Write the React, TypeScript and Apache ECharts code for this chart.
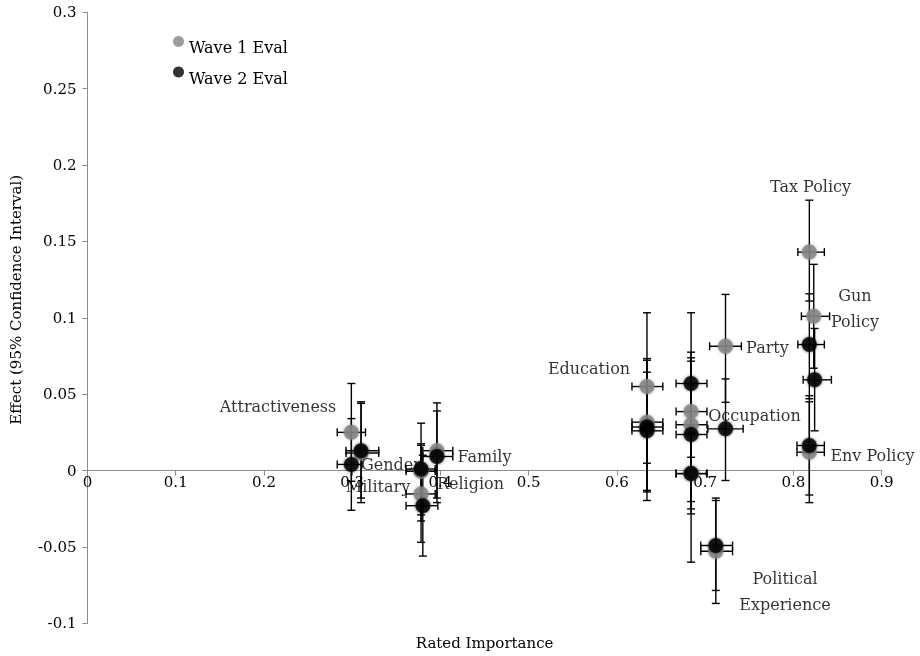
import React, { useEffect, useRef } from 'react';
import * as echarts from 'echarts';

// Wave 1 evaluations (gray)
const wave1X = [0.299, 0.310, 0.378, 0.378, 0.396, 0.634, 0.634, 0.684, 0.684, 0.684, 0.723, 0.712, 0.818, 0.823, 0.818];
const wave1Y = [0.025, 0.0115, -0.0153, -0.0005, 0.013, 0.055, 0.0317, 0.0386, 0.030, -0.002, 0.0814, -0.0528, 0.143, 0.101, 0.012];
const wave1YLow = [-0.007, -0.021, -0.047, -0.033, -0.018, 0.0048, -0.013, 0.0, -0.0203, -0.0284, 0.0447, -0.087, 0.111, 0.067, -0.021];
const wave1YHigh = [0.057, 0.045, 0.0165, 0.0175, 0.0443, 0.1033, 0.0733, 0.0775, 0.0738, 0.0245, 0.1153, -0.018, 0.177, 0.135, 0.045];
const wave1XLow = [0.283, 0.293, 0.361, 0.361, 0.380, 0.617, 0.617, 0.667, 0.667, 0.667, 0.705, 0.695, 0.805, 0.809, 0.804];
const wave1XHigh = [0.315, 0.330, 0.394, 0.394, 0.414, 0.652, 0.652, 0.702, 0.702, 0.702, 0.741, 0.731, 0.835, 0.841, 0.835];

// Wave 2 evaluations (black)
const wave2X = [0.299, 0.310, 0.380, 0.378, 0.396, 0.634, 0.634, 0.684, 0.684, 0.684, 0.723, 0.712, 0.818, 0.824, 0.818];
const wave2Y = [0.004, 0.013, -0.023, 0.001, 0.0092, 0.0285, 0.026, 0.057, 0.0236, -0.002, 0.0273, -0.0491, 0.0825, 0.0594, 0.0164];
const wave2YLow = [-0.026, -0.018, -0.056, -0.029, -0.021, -0.014, -0.0196, 0.0087, -0.0251, -0.060, -0.0065, -0.0785, 0.047, 0.026, -0.016];
const wave2YHigh = [0.034, 0.044, 0.010, 0.031, 0.039, 0.0722, 0.0644, 0.1033, 0.0716, 0.056, 0.060, -0.0196, 0.1157, 0.093, 0.049];
const wave2XLow = [0.283, 0.293, 0.361, 0.361, 0.380, 0.617, 0.617, 0.667, 0.667, 0.667, 0.703, 0.695, 0.805, 0.811, 0.804];
const wave2XHigh = [0.311, 0.330, 0.397, 0.394, 0.414, 0.652, 0.652, 0.702, 0.702, 0.702, 0.743, 0.731, 0.835, 0.843, 0.835];

// Attribute labels
const labelText = ['Attractiveness', 'Gender', 'Military', 'Religion', 'Family', 'Education', 'Occupation', 'Party', 'Political\nExperience', 'Tax Policy', 'Gun\nPolicy', 'Env Policy'];
const labelX = [0.2159, 0.3439, 0.3292, 0.434, 0.4499, 0.5683, 0.7558, 0.7705, 0.7904, 0.8193, 0.8697, 0.8895];
const labelY = [0.0417, 0.0037, -0.0107, -0.0087, 0.009, 0.0666, 0.0358, 0.0803, -0.0794, 0.1857, 0.1062, 0.0096];

const seriesNames = ['Wave 1 Eval', 'Wave 2 Eval'];
const FONT = 'DejaVu Serif';
const GRAY = '#858585';

const Y_MIN = -0.1;
const Y_MAX = 0.3;
const GRID_TOP = 12.3;
const GRID_BOTTOM = 32.7;
const HEIGHT = 656;

function rows(x: number[], y: number[], xl: number[], xh: number[], yl: number[], yh: number[]) {
  return x.map((v, i) => [v, y[i], xl[i], xh[i], yl[i], yh[i]]);
}

function errorSeries(data: number[][]) {
  return {
    type: 'custom',
    silent: true,
    z: 1,
    encode: { x: 0, y: 1 },
    renderItem: (params: any, api: any) => {
      const x = api.value(0), y = api.value(1);
      const xl = api.value(2), xh = api.value(3), yl = api.value(4), yh = api.value(5);
      const t = api.coord([x, yh]);
      const b = api.coord([x, yl]);
      const l = api.coord([xl, y]);
      const r = api.coord([xh, y]);
      const c = 4;
      const style = { stroke: '#000', lineWidth: 1.4 };
      const ln = (x1: number, y1: number, x2: number, y2: number) => ({ type: 'line', shape: { x1, y1, x2, y2 }, style });
      return {
        type: 'group',
        children: [
          ln(t[0], t[1], b[0], b[1]),
          ln(t[0] - c, t[1], t[0] + c, t[1]),
          ln(b[0] - c, b[1], b[0] + c, b[1]),
          ln(l[0], l[1], r[0], r[1]),
          ln(l[0], l[1] - c, l[0], l[1] + c),
          ln(r[0], r[1] - c, r[0], r[1] + c),
        ],
      };
    },
    data,
  };
}

export default function App() {
  const ref = useRef<HTMLDivElement>(null);
  useEffect(() => {
    if (!ref.current) return;
    const chart = echarts.init(ref.current, undefined, { renderer: 'svg' });
    const w1 = rows(wave1X, wave1Y, wave1XLow, wave1XHigh, wave1YLow, wave1YHigh);
    const w2 = rows(wave2X, wave2Y, wave2XLow, wave2XHigh, wave2YLow, wave2YHigh);
    // move the x axis up from the grid bottom to the y = 0 line
    const plotH = HEIGHT - GRID_TOP - GRID_BOTTOM;
    const zeroOffset = -((0 - Y_MIN) / (Y_MAX - Y_MIN)) * plotH;
    chart.setOption({
      animation: false,
      textStyle: { fontFamily: FONT, color: '#000' },
      grid: { left: 87.5, right: 38.3, top: GRID_TOP, bottom: GRID_BOTTOM, containLabel: false, outerBoundsMode: 'none' },
      legend: {
        orient: 'vertical',
        left: 168,
        top: 31,
        itemWidth: 11,
        itemHeight: 11,
        itemGap: 11,
        icon: 'circle',
        data: seriesNames,
        formatter: '{t|{name}}',
        textStyle: {
          fontFamily: FONT,
          fontSize: 16,
          color: '#000',
          rich: { t: { fontFamily: FONT, fontSize: 16, color: '#000', padding: [12, 0, 0, 0] } },
        },
      },
      xAxis: {
        type: 'value',
        min: 0,
        max: 0.9,
        interval: 0.1,
        offset: zeroOffset,
        name: 'Rated Importance',
        nameLocation: 'middle',
        nameGap: 165,
        nameTextStyle: { fontFamily: FONT, fontSize: 15, color: '#000' },
        axisLine: { onZero: false, lineStyle: { color: '#8c8c8c', width: 1 } },
        axisTick: { show: true, inside: false, length: 5, lineStyle: { color: '#8c8c8c' } },
        axisLabel: { fontFamily: FONT, fontSize: 15, color: '#000', margin: 4 },
        splitLine: { show: false },
      },
      yAxis: {
        type: 'value',
        min: Y_MIN,
        max: Y_MAX,
        interval: 0.05,
        name: 'Effect (95% Confidence Interval)',
        nameLocation: 'middle',
        nameGap: 64,
        nameTextStyle: { fontFamily: FONT, fontSize: 15, color: '#000', padding: [0, 0, 0, 36] },
        axisLine: { show: true, lineStyle: { color: '#8c8c8c', width: 1 } },
        axisTick: { show: true, inside: false, length: 5, lineStyle: { color: '#8c8c8c' } },
        axisLabel: { fontFamily: FONT, fontSize: 15, color: '#000', margin: 11 },
        splitLine: { show: false },
      },
      series: [
        errorSeries(w1),
        errorSeries(w2),
        {
          name: seriesNames[0],
          type: 'scatter',
          z: 2,
          symbol: 'circle',
          symbolSize: 15,
          itemStyle: { color: GRAY, shadowBlur: 3, shadowColor: 'rgba(120,120,120,0.8)' },
          data: wave1X.map((v, i) => [v, wave1Y[i]]),
        },
        {
          name: seriesNames[1],
          type: 'scatter',
          z: 3,
          symbol: 'circle',
          symbolSize: 15,
          itemStyle: { color: '#000', shadowBlur: 3, shadowColor: 'rgba(0,0,0,0.8)' },
          data: wave2X.map((v, i) => [v, wave2Y[i]]),
        },
        {
          type: 'scatter',
          z: 4,
          silent: true,
          symbolSize: 0,
          clip: false,
          label: {
            show: true,
            position: 'inside',
            formatter: (p: any) => p.data[2],
            fontFamily: FONT,
            fontSize: 16,
            color: '#000',
            lineHeight: 26,
            align: 'center',
          },
          data: labelX.map((v, i) => [v, labelY[i], labelText[i]]),
        },
      ],
    });
    return () => chart.dispose();
  }, []);
  return <div ref={ref} style={{ position: 'fixed', left: 0, top: 0, width: 920, height: 656 }} />;
}
